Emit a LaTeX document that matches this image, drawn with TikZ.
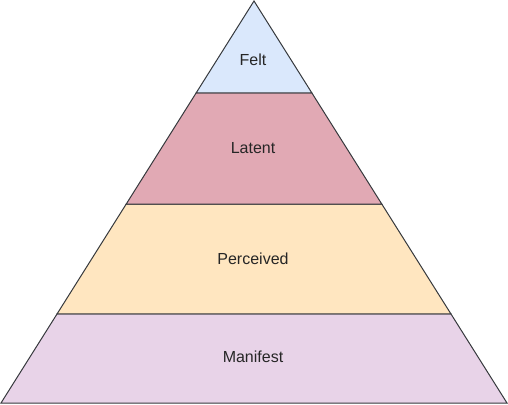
\documentclass[tikz,border=0pt]{standalone}
\usepackage{fontspec}
\setmainfont{Liberation Sans}
\usetikzlibrary{calc}
\definecolor{feltfill}{RGB}{218,232,252}
\definecolor{latentfill}{RGB}{225,169,180}
\definecolor{percfill}{RGB}{255,230,192}
\definecolor{manifill}{RGB}{232,211,232}
\definecolor{edgecol}{RGB}{54,57,61}
\tikzset{
  band/.style ={draw=edgecol, line width=1pt, line join=miter},
  lbl/.style  ={font=\fontsize{16}{19}\selectfont, inner sep=0pt, text=black!85}
}

\begin{document}
\begin{tikzpicture}[x=1pt, y=-1pt]
  \useasboundingbox (0,0) rectangle (508,404);
  % corners of the pyramid
  \coordinate (top) at (254,1);
  \coordinate (bl)  at (1,403);
  \coordinate (br)  at (507,403);
  % band edges
  \coordinate (l1) at ($(top)!92/402!(bl)$);  \coordinate (r1) at ($(top)!92/402!(br)$);
  \coordinate (l2) at ($(top)!203/402!(bl)$); \coordinate (r2) at ($(top)!203/402!(br)$);
  \coordinate (l3) at ($(top)!313/402!(bl)$); \coordinate (r3) at ($(top)!313/402!(br)$);
  \path[band, fill=manifill]   (l3) -- (r3) -- (br) -- (bl) -- cycle;
  \path[band, fill=percfill]   (l2) -- (r2) -- (r3) -- (l3) -- cycle;
  \path[band, fill=latentfill] (l1) -- (r1) -- (r2) -- (l2) -- cycle;
  \path[band, fill=feltfill]   (top) -- (r1) -- (l1) -- cycle;
  \node[lbl] (felt)     at (253,60)  {Felt};
  \node[lbl] (latent)   at (253,148) {Latent};
  \node[lbl] (perc)     at (253,259) {Perceived};
  \node[lbl] (manifest) at (253,357) {Manifest};
\end{tikzpicture}
\end{document}
